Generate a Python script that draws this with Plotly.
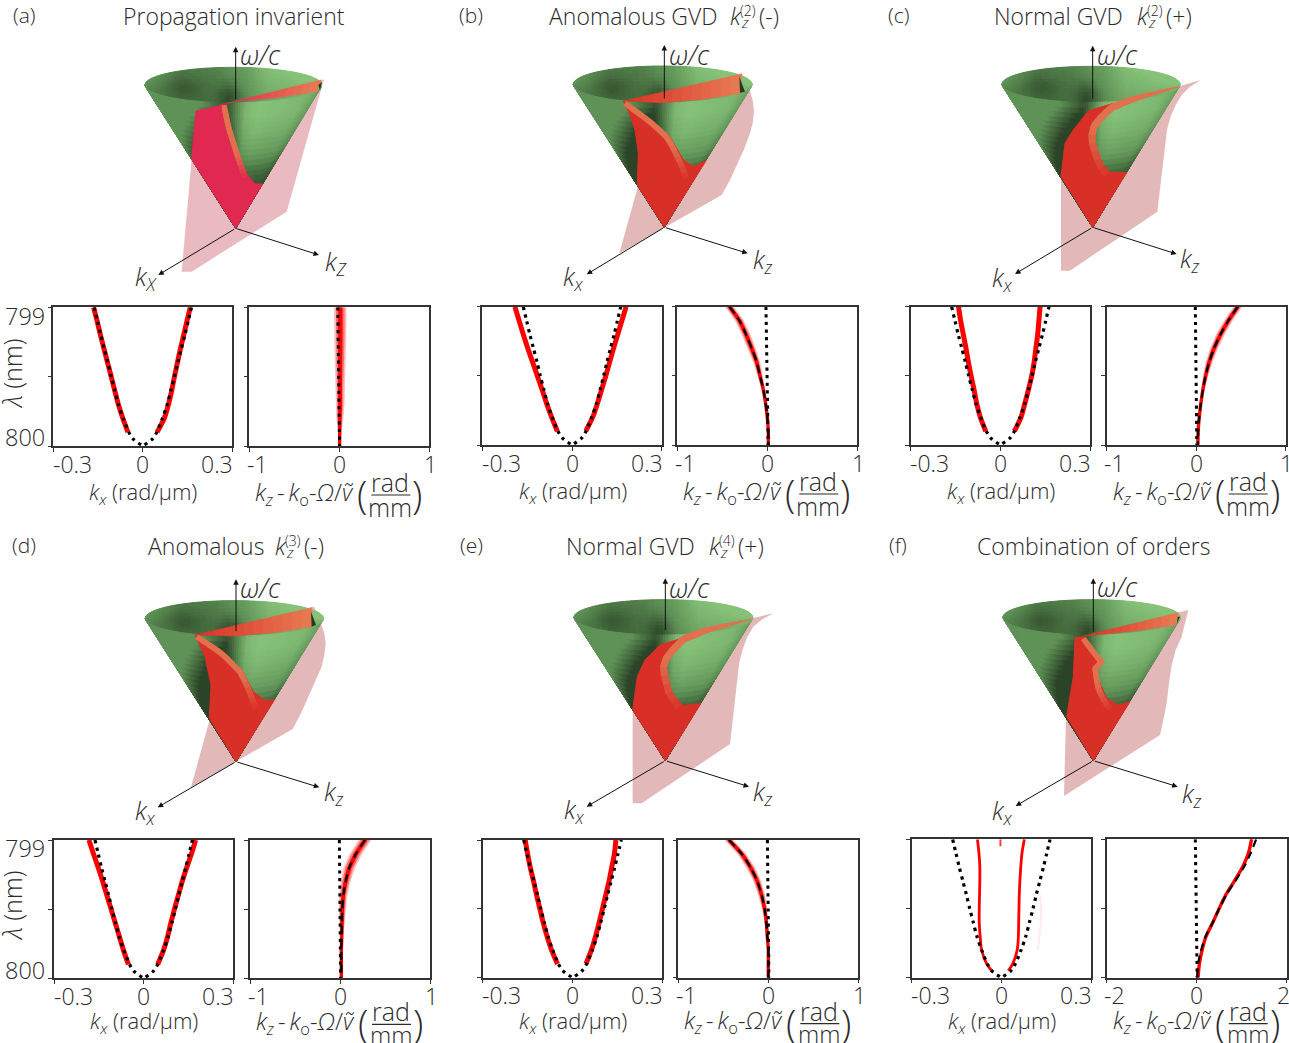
import numpy as np
import plotly.graph_objects as go

# ---------- spectral data ----------
LAM = [799.0, 799.1, 799.2, 799.3, 799.4, 799.5, 799.6, 799.7, 799.8, 799.9, 800.0]
LAM_KX_RED = LAM[:10]
LAM_DOTTED = [799.0, 799.1, 799.2, 799.3, 799.4, 799.5, 799.6, 799.7, 799.8, 799.9, 799.95, 800.0]
DOTTED_KX = [0.163, 0.152, 0.141, 0.129, 0.117, 0.106, 0.094, 0.082, 0.066, 0.047, 0.032, 0.0]

A_KX_L = [-.165, -.153, -.142, -.130, -.118, -.106, -.094, -.082, -.067, -.050]
A_KX_R = [.159, .148, .137, .126, .116, .106, .097, .086, .072, .048]
B_KX_L = [-.191, -.177, -.163, -.148, -.132, -.116, -.100, -.085, -.068, -.049]
B_KX_R = [.181, .167, .153, .139, .126, .113, .099, .085, .069, .046]
C_KX_L = [-.140, -.133, -.124, -.115, -.107, -.098, -.088, -.079, -.067, -.049]
C_KX_R = [.133, .129, .125, .119, .113, .105, .094, .082, .069, .047]
D_KX_L = [-.183, -.168, -.152, -.137, -.123, -.109, -.095, -.081, -.067, -.051]
D_KX_R = [.174, .160, .144, .129, .116, .103, .091, .080, .066, .047]
E_KX_L = [-.158, -.150, -.141, -.130, -.120, -.109, -.098, -.085, -.070, -.050]
E_KX_R = [.145, .140, .131, .122, .111, .100, .089, .077, .063, .045]
LAM_F = [799.0, 799.1, 799.2, 799.3, 799.4, 799.5, 799.6, 799.7, 799.8, 799.9, 799.95]
F_KX_L = [-.080, -.075, -.072, -.072, -.073, -.074, -.074, -.071, -.066, -.049, -.032]
F_KX_R = [.077, .069, .065, .062, .060, .059, .058, .057, .053, .038, .023]
F_STUB_KX = [-.003, -.003]
F_STUB_LAM = [799.0, 799.05]
F_FAINT_KX = [.130, .133, .130, .122]
F_FAINT_LAM = [799.4, 799.5, 799.65, 799.8]

A_KZ = [.012, .012, .012, .012, .012, .012, .010, .010, .008, .006, .005]
B_KZ = [-.42, -.31, -.237, -.174, -.118, -.081, -.044, -.019, 0.0, .011, .011]
C_KZ = [.465, .36, .272, .20, .145, .105, .075, .052, .034, .022, .019]
D_KZ = [.278, .178, .104, .063, .037, .026, .022, .019, .015, .015, .015]
E_KZ = [-.437, -.296, -.196, -.122, -.074, -.041, -.022, -.011, 0.0, 0.0, 0.0]
F_KZ = [1.22, 1.15, 1.02, .84, .65, .50, .36, .21, .12, .06, .03]
F_KZ_DASH = [1.32, 1.20, 1.05, .86, .66, .50, .36, .20, .10, .03, .01]

A_HALO = [.07, .07, .07, .065, .06, .055, .05, .05, .04, .02, .0]
B_HALO = [.05, .05, .05, .045, .04, .03, .02, .012, .01, .005, .005]
C_HALO = [.05, .05, .05, .045, .04, .03, .02, .012, .01, .005, .005]
D_HALO = [.07, .07, .065, .055, .045, .04, .03, .02, .01, .01, .01]
E_HALO = [.05, .05, .05, .045, .04, .03, .02, .012, .01, .005, .005]
F_HALO = [.03, .03, .03, .03, .03, .03, .03, .02, .02, .01, .01]

DOT_A = [-.015, .005]
DOT_B = [-.015, .010]
DOT_C = [-.010, .007]
DOT_D = [-.007, .007]
DOT_E = [-.010, .007]
DOT_F = [-.030, .010]
DOT_LAM = [799.0, 800.0]

# ---------- cone illustration outlines (3x crop coordinates) ----------
A_ORG = (120, 30); B_ORG = (560, 40); C_ORG = (985, 40)
D_ORG = (130, 570); E_ORG = (560, 570); F_ORG = (985, 570)

A_CONE = ((347, 595), (340, 165), 265, 53)
B_CONE = ((313, 562), (308, 133), 268, 55)
C_CONE = ((323, 562), (318, 133), 267, 54)
D_CONE = ((318, 575), (313, 145), 267, 53)
E_CONE = ((316, 572), (310, 142), 268, 53)
F_CONE = ((325, 572), (320, 142), 266, 53)

A_PINK = [(185, 725), (215, 725), (500, 545), (612, 148), (228, 240)]
B_PINK = [(178, 640), (485, 465), (510, 420), (530, 375), (552, 328), (570, 280), (578, 250), (582, 215), (579, 185), (572, 160), (560, 130), (545, 100), (190, 183), (235, 435)]
C_PINK = [(228, 692), (255, 692), (517, 515), (522, 470), (528, 420), (535, 370), (540, 320), (546, 270), (556, 232), (572, 195), (590, 165), (615, 140), (648, 120), (430, 182), (228, 410)]
D_PINK = [(183, 652), (488, 477), (513, 430), (533, 385), (555, 338), (575, 290), (583, 255), (587, 220), (583, 190), (575, 165), (565, 138), (552, 110), (195, 195), (240, 445)]
E_PINK = [(218, 700), (245, 700), (510, 522), (515, 475), (520, 425), (527, 375), (532, 325), (538, 275), (548, 238), (562, 200), (580, 170), (607, 148), (640, 130), (430, 180), (218, 420)]
F_PINK = [(237, 678), (525, 495), (535, 450), (545, 400), (552, 340), (560, 285), (572, 240), (590, 200), (600, 160), (610, 120), (272, 200), (243, 440)]

A_RED = [(228, 243), (310, 225), (330, 300), (370, 420), (405, 462), (428, 462), (347, 595), (215, 388)]
B_RED = [(190, 183), (210, 225), (225, 270), (235, 340), (232, 435), (313, 562), (438, 362), (400, 380), (370, 360), (330, 290), (280, 245)]
C_RED = [(310, 213), (385, 190), (345, 225), (322, 270), (320, 300), (335, 350), (375, 397), (425, 398), (323, 562), (228, 410), (240, 310), (265, 270)]
D_RED = [(195, 195), (225, 260), (243, 345), (238, 445), (318, 575), (433, 390), (405, 392), (370, 365), (335, 300), (280, 248)]
E_RED = [(300, 225), (365, 205), (325, 245), (308, 285), (310, 320), (328, 370), (372, 407), (423, 400), (316, 572), (218, 420), (232, 320), (255, 270)]
F_RED = [(270, 203), (295, 200), (335, 265), (350, 280), (330, 295), (345, 340), (365, 385), (400, 405), (435, 395), (325, 572), (245, 440), (265, 320)]

A_BAND = [(312, 225), (325, 290), (350, 370), (380, 455)]
B_BAND = [(195, 190), (270, 245), (325, 295), (350, 345), (375, 400), (385, 430)]
C_BAND = [(580, 140), (440, 178), (375, 205), (330, 250), (318, 295), (335, 355), (355, 395), (385, 420)]
D_BAND = [(200, 200), (275, 250), (330, 305), (355, 355), (375, 410), (385, 430)]
E_BAND = [(572, 148), (440, 180), (365, 210), (320, 260), (308, 300), (328, 370), (350, 405), (375, 430)]
F_BAND = [(295, 205), (320, 240), (350, 278), (330, 295), (340, 360), (365, 405), (390, 425)]

A_WEDGE_T = [(300, 225), (603, 150)]
A_WEDGE_B = [(300, 225), (345, 215), (470, 203), (590, 185)]
B_WEDGE_T = [(190, 183), (545, 102)]
B_WEDGE_B = [(190, 183), (310, 188), (430, 178), (540, 160)]
D_WEDGE_T = [(195, 195), (545, 113)]
D_WEDGE_B = [(195, 195), (313, 198), (430, 188), (545, 170)]
F_WEDGE_T = [(295, 198), (580, 128)]
F_WEDGE_B = [(295, 198), (325, 195), (450, 183), (572, 165)]

A_TIP = [(595, 165), (606, 155), (600, 182)]
B_TIP = [(538, 110), (555, 155), (540, 158)]
D_TIP = [(543, 125), (558, 165), (545, 170)]
F_TIP = [(578, 140), (585, 140), (576, 160)]

A_AXES = [(347, 212, 347, 50), (347, 595, 597, 675), (347, 595, 115, 735)]
B_AXES = [(313, 180, 313, 15), (313, 562, 563, 640), (313, 562, 80, 703)]
C_AXES = [(323, 180, 323, 17), (323, 562, 575, 642), (323, 562, 90, 702)]
D_AXES = [(318, 188, 318, 28), (318, 575, 568, 652), (318, 575, 83, 712)]
E_AXES = [(316, 185, 316, 25), (316, 572, 567, 650), (316, 572, 80, 710)]
F_AXES = [(325, 190, 325, 25), (325, 572, 578, 650), (325, 572, 92, 708)]

A_LBL = [(420, 74), (648, 698), (78, 742)]
B_LBL = [(388, 42), (608, 662), (40, 712)]
C_LBL = [(396, 42), (616, 658), (52, 716)]
D_LBL = [(390, 52), (613, 668), (45, 724)]
E_LBL = [(388, 52), (610, 668), (44, 722)]
F_LBL = [(398, 49), (620, 674), (53, 724)]

# ---------- text ----------
LETTERS = ["(a)", "(b)", "(c)", "(d)", "(e)", "(f)"]
XT_KX = ["-0.3", "0", "0.3"]
XT_KZ = ["-1", "0", "1"]
XT_KZ_F = ["-2", "0", "2"]
YT = ["799", "800"]

FONT = "Open Sans"
INK = "#2b2b2b"
fig = go.Figure()
annots = []
shapes = []


def note(x, y, text, size=21, anchor="center", angle=0, color=INK):
    annots.append(dict(x=x, y=y, xref="x", yref="y", text=text, showarrow=False,
                       xanchor=anchor, yanchor="middle", textangle=angle, borderpad=0,
                       font=dict(family=FONT, size=size, color=color, weight=300)))


def crop(org, pts):
    return [(org[0] + p[0] / 3, org[1] + p[1] / 3) for p in pts]


def poly(pts, color, line=0.0):
    xs = [p[0] for p in pts] + [pts[0][0]]
    ys = [p[1] for p in pts] + [pts[0][1]]
    fig.add_trace(go.Scatter(x=xs, y=ys, mode="lines", fill="toself", fillcolor=color,
                             line=dict(color=color, width=line), hoverinfo="skip", showlegend=False))


def lerp(c0, c1, t):
    return tuple(c0[i] + (c1[i] - c0[i]) * t for i in range(3))


def rgb(c):
    return "rgb(%d,%d,%d)" % tuple(int(round(v)) for v in c)


DARK = (37, 58, 33)
MID = (92, 142, 84)
LIGHT = (136, 196, 122)


def green(level):
    level = min(max(level, 0), 1)
    return lerp(DARK, MID, level / .5) if level < .5 else lerp(MID, LIGHT, (level - .5) / .5)


def front_level(u, v):
    fac = np.interp(v, [0, .3, .45, .6, .75, .9, 1], [.1, .12, .33, .68, .88, 1, 1])
    right = np.interp(u, [-.2, .05, .3, .8, 1], [.6, .78, .98, .88, .62]) * fac
    edge = np.interp(v, [.3, .42, .61, .83, 1], [-1.2, -.98, -.72, -.35, -.05])
    d = u - edge
    left = np.interp(d, [-.3, .05], [.54, .06])
    # cross-fade between the shaded left flank and the lit right flank
    t = np.clip((u + .1) / .25, 0, 1)
    return left * (1 - t) + right * t


def inner_level(u, w):
    base = np.interp(u, [-1, -.6, -.2, .15, .4, 1], [.52, .32, .38, .58, .84, .98])
    base *= 1 - .72 * np.exp(-((u + .05) / .14) ** 2 - ((w - .8) / .9) ** 2)
    base *= 1 - .4 * np.exp(-((u + .55) / .22) ** 2 - ((w - .2) / .7) ** 2)
    return base * np.interp(w, [-1, 0, 1], [1.12, 1, .85])


N_LEVELS = 64
buckets = [([], []) for _ in range(N_LEVELS)]


def add_quad(corners, level):
    k = min(int(max(level, 0) * N_LEVELS), N_LEVELS - 1)
    bx, by = buckets[k]
    for c in corners + corners[:1]:
        bx.append(c[0]); by.append(c[1])
    bx.append(None); by.append(None)


def shade_cone(org, cone):
    apex, cen, rx, ry = cone
    ax, ay = org[0] + apex[0] / 3, org[1] + apex[1] / 3
    cx, cy = org[0] + cen[0] / 3, org[1] + cen[1] / 3
    rx, ry = rx / 3, ry / 3
    ang = np.linspace(np.pi, 0, 101)
    us = .7 * np.cos(ang) + .3 * np.linspace(-1, 1, 101)
    vs = np.linspace(0, 1, 25)
    ws = np.linspace(-1, 1, 11)

    def fp(u, v):
        return (ax + v * (cx - ax) + v * rx * u, ay + v * (cy - ay) + v * ry * np.sqrt(max(1 - u * u, 0)))

    def ip(u, w):
        return (cx + rx * u, cy + ry * np.sqrt(max(1 - u * u, 0)) * w)

    for i in range(len(us) - 1):
        um = .5 * (us[i] + us[i + 1])
        for j in range(len(vs) - 1):
            vm = .5 * (vs[j] + vs[j + 1])
            add_quad([fp(us[i], vs[j]), fp(us[i + 1], vs[j]), fp(us[i + 1], vs[j + 1]), fp(us[i], vs[j + 1])],
                     front_level(um, vm))
        for j in range(len(ws) - 1):
            wm = .5 * (ws[j] + ws[j + 1])
            add_quad([ip(us[i], ws[j]), ip(us[i + 1], ws[j]), ip(us[i + 1], ws[j + 1]), ip(us[i], ws[j + 1])],
                     inner_level(um, wm))


def resample(pts, n):
    pts = np.array(pts, float)
    d = np.r_[0, np.cumsum(np.hypot(*np.diff(pts, axis=0).T))]
    t = np.linspace(0, d[-1], n)
    return np.c_[np.interp(t, d, pts[:, 0]), np.interp(t, d, pts[:, 1])]


def wedge(top, bot, c0, c1, n=12):
    a, b = resample(top, n + 1), resample(bot, n + 1)
    for i in range(n):
        poly([tuple(a[i]), tuple(a[i + 1]), tuple(b[i + 1]), tuple(b[i])], rgb(lerp(c0, c1, (i + .5) / n)), line=.6)


def band(pts, base, taper):
    orange = (226, 112, 78)
    n = 18
    r = resample(pts, n + 1)
    for i in range(n):
        t = i / (n - 1)
        c = orange if t < .62 else lerp(orange, base, (t - .62) / .38)
        if taper:
            width = float(np.interp(t, [0, .35, 1], [1.5, 7, 6.5]))
        else:
            width = 5.5
        j = min(i + 2, n)
        fig.add_trace(go.Scatter(x=r[i:j + 1, 0], y=r[i:j + 1, 1], mode="lines", line=dict(color=rgb(c), width=width),
                                 hoverinfo="skip", showlegend=False))


PINK_A = "rgb(233,186,192)"
PINK = "rgb(226,184,184)"
CRIMSON = (224, 40, 80)
REDC = (216, 48, 38)

ILLUS = [
    (A_ORG, A_CONE, A_PINK, A_RED, A_BAND, A_WEDGE_T, A_WEDGE_B, A_TIP, A_AXES, A_LBL, PINK_A, CRIMSON),
    (B_ORG, B_CONE, B_PINK, B_RED, B_BAND, B_WEDGE_T, B_WEDGE_B, B_TIP, B_AXES, B_LBL, PINK, REDC),
    (C_ORG, C_CONE, C_PINK, C_RED, C_BAND, None, None, None, C_AXES, C_LBL, PINK, REDC),
    (D_ORG, D_CONE, D_PINK, D_RED, D_BAND, D_WEDGE_T, D_WEDGE_B, D_TIP, D_AXES, D_LBL, PINK, REDC),
    (E_ORG, E_CONE, E_PINK, E_RED, E_BAND, None, None, None, E_AXES, E_LBL, PINK, REDC),
    (F_ORG, F_CONE, F_PINK, F_RED, F_BAND, F_WEDGE_T, F_WEDGE_B, F_TIP, F_AXES, F_LBL, PINK, REDC),
]

for it in ILLUS:
    poly(crop(it[0], it[2]), it[10])
for it in ILLUS:
    shade_cone(it[0], it[1])
for k, (bx, by) in enumerate(buckets):
    if not bx:
        continue
    col = rgb(green((k + .5) / N_LEVELS))
    fig.add_trace(go.Scatter(x=bx, y=by, mode="lines", fill="toself", fillcolor=col,
                             line=dict(color=col, width=1.0), hoverinfo="skip", showlegend=False))

for n_it, it in enumerate(ILLUS):
    org, cone, pink, red, bnd, wt, wb, tip, axes_, lbl, pk, base = it
    poly(crop(org, red), rgb(base), line=1.0)
    if wt is not None:
        wedge(crop(org, wt), crop(org, wb), base, (232, 124, 84))
    if tip is not None:
        poly(crop(org, tip), rgb(DARK))
    band(crop(org, bnd), base, wt is None)
    for (x0, y0, x1, y1) in axes_:
        a, b = crop(org, [(x0, y0), (x1, y1)])
        annots.append(dict(x=b[0], y=b[1], ax=a[0], ay=a[1], xref="x", yref="y", axref="x", ayref="y", text="",
                           showarrow=True, arrowhead=2, arrowsize=1.1, arrowwidth=1, arrowcolor="#111"))
    l = crop(org, lbl)
    note(l[0][0], l[0][1], "<i>ω/c</i>", size=27)
    sub = "Z" if n_it == 0 else "z"
    subx = "X" if n_it == 0 else "x"
    note(l[1][0], l[1][1], f"<i>k<sub>{sub}</sub></i>", size=25)
    note(l[2][0], l[2][1], f"<i>k<sub>{subx}</sub></i>", size=25)

# ---------- panel titles ----------
for letter, (x, y) in zip(LETTERS, [(24, 15), (471, 15), (898, 15), (24, 545), (471, 545), (898, 545)]):
    note(x, y, letter, size=21)
note(234, 16, "Propagation invarient", size=23)
note(1093, 546, "Combination of orders", size=23)
TITLES = [(548, 729, 16, "Anomalous GVD", "(2)", "(-)"), (993, 1136, 16, "Normal GVD", "(2)", "(+)"),
          (147, 274, 546, "Anomalous", "(3)", "(-)"), (565, 708, 546, "Normal GVD", "(4)", "(+)")]
for xs, xk, y, txt, sup, suf in TITLES:
    note(xs, y, txt, size=23, anchor="left")
    note(xk, y, "<i>k</i>", size=23, anchor="left")
    note(xk + 11, y + 6, "<i>z</i>", size=15, anchor="left")
    note(xk + 10, y - 6, sup, size=14, anchor="left")
    note(xk + 29, y, suf, size=23, anchor="left")

# ---------- 2D panels ----------
PANELS = [
    ((53.3, 232.3), (249.3, 429), (307.3, 446), A_KX_L, A_KX_R, LAM_KX_RED, A_KZ, None, A_HALO, DOT_A, XT_KZ, 1),
    ((482.3, 661.7), (677.3, 857.3), (306.7, 445), B_KX_L, B_KX_R, LAM_KX_RED, B_KZ, B_KZ, B_HALO, DOT_B, XT_KZ, 1),
    ((910.7, 1090), (1106.7, 1285.7), (306.7, 445), C_KX_L, C_KX_R, LAM_KX_RED, C_KZ, C_KZ, C_HALO, DOT_C, XT_KZ, 1),
    ((54, 233.3), (250, 430), (840, 978.3), D_KX_L, D_KX_R, LAM_KX_RED, D_KZ, D_KZ, D_HALO, DOT_D, XT_KZ, 2),
    ((482.7, 662.3), (678.3, 858.3), (840, 977.7), E_KX_L, E_KX_R, LAM_KX_RED, E_KZ, E_KZ, E_HALO, DOT_E, XT_KZ, 2),
    ((911.7, 1091), (1106.7, 1286.7), (839.3, 977.7), F_KX_L, F_KX_R, LAM_F, F_KZ, F_KZ_DASH, F_HALO, DOT_F, XT_KZ_F, 2),
]
W, H = 1289, 1043
layout_axes = {}
ax_n = 2


def make_axes(xpix, ypix, xrange, xticks):
    global ax_n
    n = ax_n
    ax_n += 1
    common = dict(showgrid=False, zeroline=False, showticklabels=False, ticks="outside", ticklen=4,
                  tickcolor="#333", tickwidth=1, showline=True, mirror=True, linecolor="#333", linewidth=1.5)
    layout_axes[f"xaxis{n}"] = dict(domain=[xpix[0] / W, xpix[1] / W], range=xrange, tickvals=xticks,
                                    anchor=f"y{n}", **common)
    layout_axes[f"yaxis{n}"] = dict(domain=[1 - ypix[1] / H, 1 - ypix[0] / H], range=[800, 799],
                                    tickvals=[799, 799.5, 800], anchor=f"x{n}", **common)
    return f"x{n}", f"y{n}"


def line(xa, ya, x, y, color, width, dash=None, smooth=False):
    fig.add_trace(go.Scatter(x=x, y=y, xaxis=xa, yaxis=ya, mode="lines",
                             line=dict(color=color, width=width, dash=dash,
                                       shape="spline" if smooth else "linear", smoothing=.8),
                             hoverinfo="skip", showlegend=False))


DOTS = "3.2px,4.4px"
for i, (xl, xr, yp, kl, kr, lam_k, kz, kz_d, halo, dot, kz_ticks, row) in enumerate(PANELS):
    is_f = i == 5
    # --- transverse panel
    xa, ya = make_axes(xl, yp, [-.3, .3], [-.3, 0, .3])
    w_red = 2.8 if is_f else 5
    if is_f:
        line(xa, ya, F_STUB_KX, F_STUB_LAM, "rgb(255,60,60)", 2)
        line(xa, ya, F_FAINT_KX, F_FAINT_LAM, "rgba(255,0,0,.08)", 2, smooth=True)
    line(xa, ya, kl, lam_k, "rgb(255,0,0)", w_red, smooth=True)
    line(xa, ya, kr, lam_k, "rgb(255,0,0)", w_red, smooth=True)
    dot_x = [-v for v in DOTTED_KX] + DOTTED_KX[::-1]
    dot_y = LAM_DOTTED + LAM_DOTTED[::-1]
    line(xa, ya, dot_x, dot_y, "black", 3.2, DOTS, smooth=True)
    # --- axial panel
    xa2, ya2 = make_axes(xr, yp, [-2, 2] if is_f else [-1, 1], [-2, 0, 2] if is_f else [-1, 0, 1])
    kz_a = np.array(kz); hw = np.array(halo)
    for scale, alpha in ((1.0, .25), (.7, .4), (.4, .7)):
        fig.add_trace(go.Scatter(x=list(kz_a - hw * scale) + list((kz_a + hw * scale)[::-1]), y=LAM + LAM[::-1],
                                 xaxis=xa2, yaxis=ya2, mode="lines", fill="toself",
                                 fillcolor=f"rgba(255,0,0,{alpha})", line=dict(width=0),
                                 hoverinfo="skip", showlegend=False))
    line(xa2, ya2, kz, LAM, "rgb(255,0,0)", 3.4, smooth=True)
    line(xa2, ya2, dot, DOT_LAM, "black", 3, DOTS)
    if kz_d is not None:
        line(xa2, ya2, kz_d, LAM, "black", 2.2, "8px,5px", smooth=True)
    # --- tick text
    bot = yp[1]
    off = 47 if row == 1 else 44
    yt = bot + 17.5
    note(xl[0] + 19, yt, XT_KX[0], size=23)
    note(.5 * (xl[0] + xl[1]), yt, XT_KX[1], size=23)
    note(xl[1] - 15, yt, XT_KX[2], size=23)
    note(xr[0] + 8, yt, kz_ticks[0], size=23)
    note(.5 * (xr[0] + xr[1]), yt, kz_ticks[1], size=23)
    note(xr[1] - 3 if is_f else xr[1] + 1, yt, kz_ticks[2], size=23)
    note(.5 * (xl[0] + xl[1]) + 0.5, bot + off, "<i>k<sub>x</sub></i> (rad/µm)", size=22)
    tx = xr[0] + 5
    note(tx, bot + off, "<i>k<sub>z</sub></i>\u2009-\u2009<i>k</i><sub>o</sub>-<i>Ω</i>/<i>ṽ</i>", size=23.5, anchor="left")
    note(tx + 108, bot + off + 1, "(", size=38)
    note(tx + 136, bot + off - 11, "rad", size=25)
    note(tx + 136, bot + off + (14 if row == 1 else 12), "mm", size=25 if row == 1 else 24)
    shapes.append(dict(type="line", xref="x", yref="y", x0=tx + 117, x1=tx + 156, y0=bot + off + 2, y1=bot + off + 2,
                       line=dict(color=INK, width=1.2)))
    note(tx + 163, bot + off + 1, ")", size=38)

for y799, y800, ymid in [(316, 436.5, 374), (848, 970, 906)]:
    note(46, y799, YT[0], size=23.5, anchor="right")
    note(46, y800, YT[1], size=23.5, anchor="right")
    note(12, ymid, "<i>λ</i> (nm)", size=25, angle=-90)

fig.update_layout(
    width=W, height=H, autosize=False, margin=dict(l=0, r=0, t=0, b=0, pad=0),
    paper_bgcolor="white", plot_bgcolor="rgba(0,0,0,0)", showlegend=False,
    xaxis=dict(range=[0, W], domain=[0, 1], visible=False, fixedrange=True),
    yaxis=dict(range=[H, 0], domain=[0, 1], visible=False, fixedrange=True),
    annotations=annots, shapes=shapes, **layout_axes,
)
fig.write_html("out.html", post_script="document.body.style.margin='0';", config={"displayModeBar": False})
